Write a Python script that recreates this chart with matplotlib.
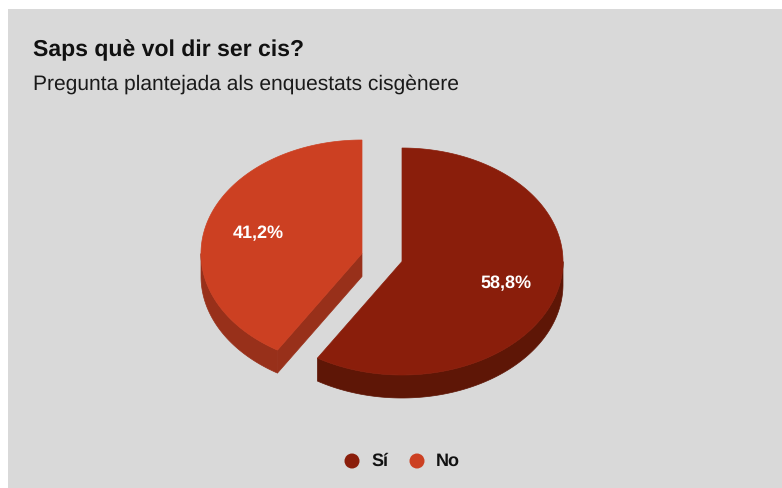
import numpy as np
import matplotlib
matplotlib.use("Agg")
import matplotlib.pyplot as plt
from matplotlib.patches import Polygon, Rectangle, Circle

plt.rcParams['font.family'] = ['Liberation Sans', 'DejaVu Sans']
plt.rcParams['text.hinting'] = 'none'
plt.rcParams['text.hinting_factor'] = 1

title = "Saps què vol dir ser cis?"
subtitle = "Pregunta plantejada als enquestats cisgènere"
categories = ["Sí", "No"]
values = [58.8, 41.2]
labels = ["58,8%", "41,2%"]
top_colors = ["#8A1E0B", "#CC4022"]
side_colors = ["#5E1606", "#98301A"]
centers = [(402, 261.5), (362, 253.5)]

RX, RY, DEPTH = 161, 113.5, 23
W, H = 782, 488

fig = plt.figure(figsize=(W / 100, H / 100), dpi=100, facecolor="white")
ax = fig.add_axes([0, 0, 1, 1])
ax.set_xlim(0, W)
ax.set_ylim(H, 0)
ax.axis("off")
ax.add_patch(Rectangle((8, 9), W - 8, H - 9, fc="#D9D9D9", ec="none", zorder=0))


def ell(c, t):
    t = np.asarray(t)
    return np.column_stack([c[0] + RX * np.sin(t), c[1] - RY * np.cos(t)])


start = 0.0
total = sum(values)
for i, v in enumerate(values):
    a0, a1 = start, start + v / total * 2 * np.pi
    c = centers[i]
    t = np.linspace(a0, a1, 200)
    rim = ell(c, t)
    # outer wall: only the part of the rim that faces the viewer
    lo, hi = max(a0, np.pi / 2), min(a1, 3 * np.pi / 2)
    if hi > lo:
        tv = np.linspace(lo, hi, 200)
        e = ell(c, tv)
        wall = np.vstack([e, (e + [0, DEPTH])[::-1]])
        ax.add_patch(Polygon(wall, fc=side_colors[i], ec=side_colors[i], lw=0.5, zorder=2))
    # cut face: only the one turned towards the viewer
    if a0 > np.pi / 2 and a0 < 3 * np.pi / 2:
        p = ell(c, [a0])[0]
        face = np.array([c, p, p + [0, DEPTH], np.array(c) + [0, DEPTH]])
        ax.add_patch(Polygon(face, fc=side_colors[i], ec=side_colors[i], lw=0.5, zorder=2))
    ax.add_patch(Polygon(np.vstack([[c], rim]), fc=top_colors[i], ec=top_colors[i], lw=0.5, zorder=3))
    # label at mid-angle
    m = (a0 + a1) / 2
    lp = ell(c, [m])[0] * 0.67 + np.array(c) * 0.33
    ax.text(lp[0], lp[1] + 1, labels[i], color="white", fontsize=13, fontweight="bold",
            ha="center", va="center", zorder=5)
    start = a1

ax.text(33, 50, title, fontsize=16.5, fontweight="bold", color="#111111", ha="left", va="center")
ax.text(33, 84.5, subtitle, fontsize=15, color="#1A1A1A", ha="left", va="center")

for name, col, mx, tx in zip(categories, top_colors, [352, 417], [371, 436]):
    ax.add_patch(Circle((mx, 461), 7.5, fc=col, ec="none", zorder=4))
    ax.text(tx, 461, name, fontsize=13, fontweight="bold", color="#111111", ha="left", va="center")

fig.savefig("out.png", dpi=100, facecolor=fig.get_facecolor())
